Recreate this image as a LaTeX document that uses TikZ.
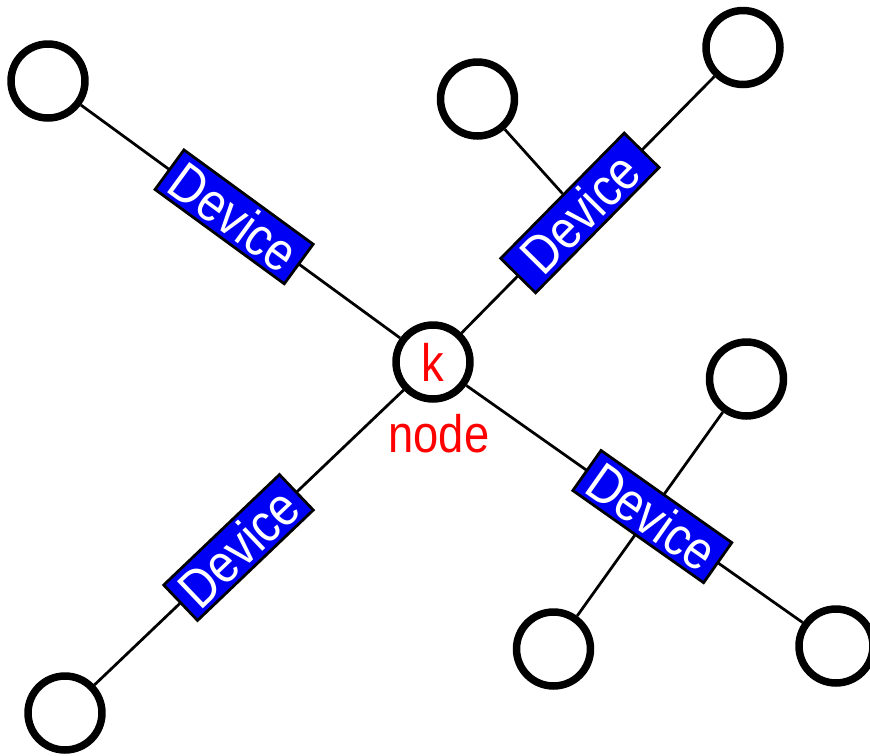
\documentclass[tikz,border=0pt]{standalone}
\usepackage{fontspec}
\setmainfont[FakeStretch=0.86]{Liberation Sans}
\definecolor{devblue}{RGB}{0,0,245}
\begin{document}
\begin{tikzpicture}[x=0.02cm,y=-0.02cm,
  term/.style={circle, draw=black, line width=0.15cm, minimum size=1.48cm,
               inner sep=0pt, fill=white},
  link/.style={draw=black, line width=0.055cm},
  device/.style={draw=black, fill=devblue, line width=0.055cm, text=white,
                 font=\fontsize{31}{31}\selectfont, minimum width=3.2cm,
                 minimum height=0.98cm, inner sep=0pt, sloped},
  lbl/.style={text=red, font=\fontsize{30}{30}\selectfont}]
\useasboundingbox (0,0) rectangle (870,755);

% terminals
\node[term] (c1) at (48,81) {};
\node[term] (c2) at (477.5,99) {};
\node[term] (c3) at (743,47.5) {};
\node[term] (c5) at (746.5,379) {};
\node[term] (c6) at (553.5,649) {};
\node[term] (c7) at (836,646) {};
\node[term] (c8) at (65,713) {};

% central node k
\node[term, lbl] (k) at (433,362) {k};
\node[lbl, anchor=base] (klabel) at (439,452) {node};

% cross connection behind the lower right device
\draw[link] (c5) -- (c6);

% branches from k, each with its device
\draw[link] (k) -- node[device, pos=0.52] (d1) {Device} (c1);
\draw[link] (k) -- node[device, pos=0.468, minimum width=3.52cm] (d2) {Device} (c3);
\draw[link] (k) -- node[device, pos=0.534] (d3) {Device} (c8);
\draw[link] (k) -- node[device, pos=0.553] (d4) {Device} (c7);

% side connection to the upper right device
\draw[link] (c2) -- (d2);
\end{tikzpicture}
\end{document}
